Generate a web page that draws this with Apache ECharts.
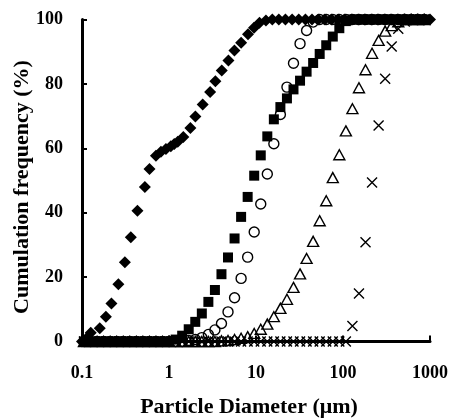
<!DOCTYPE html>
<html>
<head>
<meta charset="utf-8">
<script src="https://cdn.jsdelivr.net/npm/echarts@6/dist/echarts.min.js"></script>
<style>
html,body{margin:0;padding:0;background:#fff;}
#c{width:453px;height:418px;}
</style>
</head>
<body>
<div id="c"></div>
<script>
// Particle diameter grid (µm) shared by square, circle, triangle and cross series
const xGrid = [0.1053,0.1253,0.1490,0.1771,0.2107,0.2505,0.2979,0.3543,0.4213,0.5010,
  0.5958,0.7086,0.8427,1.002,1.192,1.417,1.685,2.004,2.384,2.835,
  3.371,4.009,4.768,5.670,6.743,8.019,9.536,11.34,13.49,16.04,
  19.07,22.68,26.97,32.08,38.15,45.37,53.95,64.16,76.30,90.73,
  107.9,128.3,152.6,181.5,215.8,256.6,305.2,362.9,431.6,513.3,
  610.4,725.9,863.2];

const squaresY = [0,0,0,0,0,0,0,0,0,0, 0,0,0,0,0.6,1.8,3.8,6.1,8.7,12.3,
  16,20.9,26.1,32,38.7,44.9,51.5,57.8,63.7,69,
  72.8,75.5,78.3,81,83.8,86.5,89.3,92,94.7,97.3,
  99.5,100,100,100,100,100,100,100,100,100, 100,100,100];

const circlesY = [0,0,0,0,0,0,0,0,0,0, 0,0,0,0,0,0,0.3,0.6,1.2,2.2,
  3.6,5.6,9.2,13.6,19.6,26.2,34,42.7,52,61.4,
  70.5,79,86.4,92.5,96.6,99.2,100,100,100,100,
  100,100,100,100,100,100,100,100,100,100, 100,100,100];

const trianglesY = [0,0,0,0,0,0,0,0,0,0, 0,0,0,0,0,0,0,0,0,0,
  0,0.2,0.3,0.6,1.0,1.5,2.5,3.8,5.4,7.7,
  10.3,13.1,16.8,21,25.8,31.1,37.5,43.7,50.9,58,
  65.4,72.3,78.8,84.4,89.5,93.5,96.4,98.1,99.3,100, 100,100,100];

const crossesY = [0,0,0,0,0,0,0,0,0,0, 0,0,0,0,0,0,0,0,0,0,
  0,0,0,0,0,0,0,0,0,0, 0,0,0,0,0,0,0,0,0,0,
  0,4.8,14.9,30.8,49.4,67.1,81.6,91.6,97.1,99.4, 100,100,100];

// Diamond series has its own diameters
const diamondsX = [0.100,0.113,0.126,0.160,0.188,0.218,0.262,0.311,0.364,0.434,
  0.528,0.597,0.708,0.808,0.922,1.05,1.15,1.26,1.46,1.76,
  2.01,2.44,2.97,3.41,4.04,4.82,5.65,6.75,8.09,9.49,
  10.97,13.0,15.4,18.3,21.8,26,31,37,44,52,
  62,74,88,105,125,149,177,211,251,298,
  355,422,502,598,711,846,1000];
const diamondsY = [0,1.0,2.7,4.1,7.7,11.8,17.8,24.6,32.4,40.6,
  48,53.6,57.7,58.9,59.8,60.6,61.3,62,63.5,66.3,
  69.9,73.6,77.5,80.8,84.2,87.3,90.4,92.8,95.4,97.4,
  99.0,99.7,100,100,100,100,100,100,100,100,
  100,100,100,100,100,100,100,100,100,100,
  100,100,100,100,100,100,100];

const xTicks = [0.1, 1, 10, 100, 1000];
const yTicks = [0, 20, 40, 60, 80, 100];
const xTitle = 'Particle Diameter (μm)';
const yTitle = 'Cumulation frequency (%)';

function pairs(xs, ys){ return xs.map((x,i)=>[x, ys[i]]); }

const FONT = "'Liberation Serif','Times New Roman',serif";
const chart = echarts.init(document.getElementById('c'), null, {renderer:'canvas'});
const hollow = {color:'rgba(0,0,0,0)', borderColor:'#000', borderWidth:1.4, opacity:1};
const solid = {color:'#000', opacity:1};

chart.setOption({
  animation:false,
  backgroundColor:'#fff',
  grid:{left:82, right:23, top:19.5, bottom:76.5},
  graphic:[
    {type:'text', x:249, y:407.5, style:{text:xTitle, font:'bold 22px '+FONT, fill:'#000', align:'center', verticalAlign:'middle'}},
    {type:'text', x:22, y:187, rotation:Math.PI/2, style:{text:yTitle, font:'bold 22px '+FONT, fill:'#000', align:'center', verticalAlign:'middle'}}
  ],
  xAxis:{
    type:'log', logBase:10, min:xTicks[0], max:xTicks[xTicks.length-1],
    axisLine:{lineStyle:{color:'#000', width:3}},
    axisTick:{inside:true, length:6, lineStyle:{color:'#000', width:2}},
    splitLine:{show:false},
    axisLabel:{margin:22.5, fontFamily:FONT, fontWeight:'bold', fontSize:18, color:'#000',
      formatter:function(v){
        let b = xTicks[0];
        xTicks.forEach(t=>{ if(Math.abs(Math.log10(t/v)) < Math.abs(Math.log10(b/v))) b=t; });
        return String(b);
      }}
  },
  yAxis:{
    type:'value', min:yTicks[0], max:yTicks[yTicks.length-1], interval:20,
    axisLine:{show:true, lineStyle:{color:'#000', width:3}},
    axisTick:{show:true, inside:true, length:5, lineStyle:{color:'#000', width:2}},
    splitLine:{show:false},
    axisLabel:{margin:19, fontFamily:FONT, fontWeight:'bold', fontSize:18, color:'#000'}
  },
  series:[
    {type:'scatter', name:'cross', data:pairs(xGrid, crossesY),
     symbol:'path://M0,0L10,10M0,10L10,0', symbolSize:10, itemStyle:hollow},
    {type:'scatter', name:'triangle', data:pairs(xGrid, trianglesY),
     symbol:'triangle', symbolSize:[11,10], itemStyle:hollow},
    {type:'scatter', name:'circle', data:pairs(xGrid, circlesY),
     symbol:'circle', symbolSize:10, itemStyle:hollow},
    {type:'scatter', name:'square', data:pairs(xGrid, squaresY),
     symbol:'rect', symbolSize:10, itemStyle:solid},
    {type:'scatter', name:'diamond', data:pairs(diamondsX, diamondsY),
     symbol:'diamond', symbolSize:12, itemStyle:solid}
  ]
});
</script>
</body>
</html>
